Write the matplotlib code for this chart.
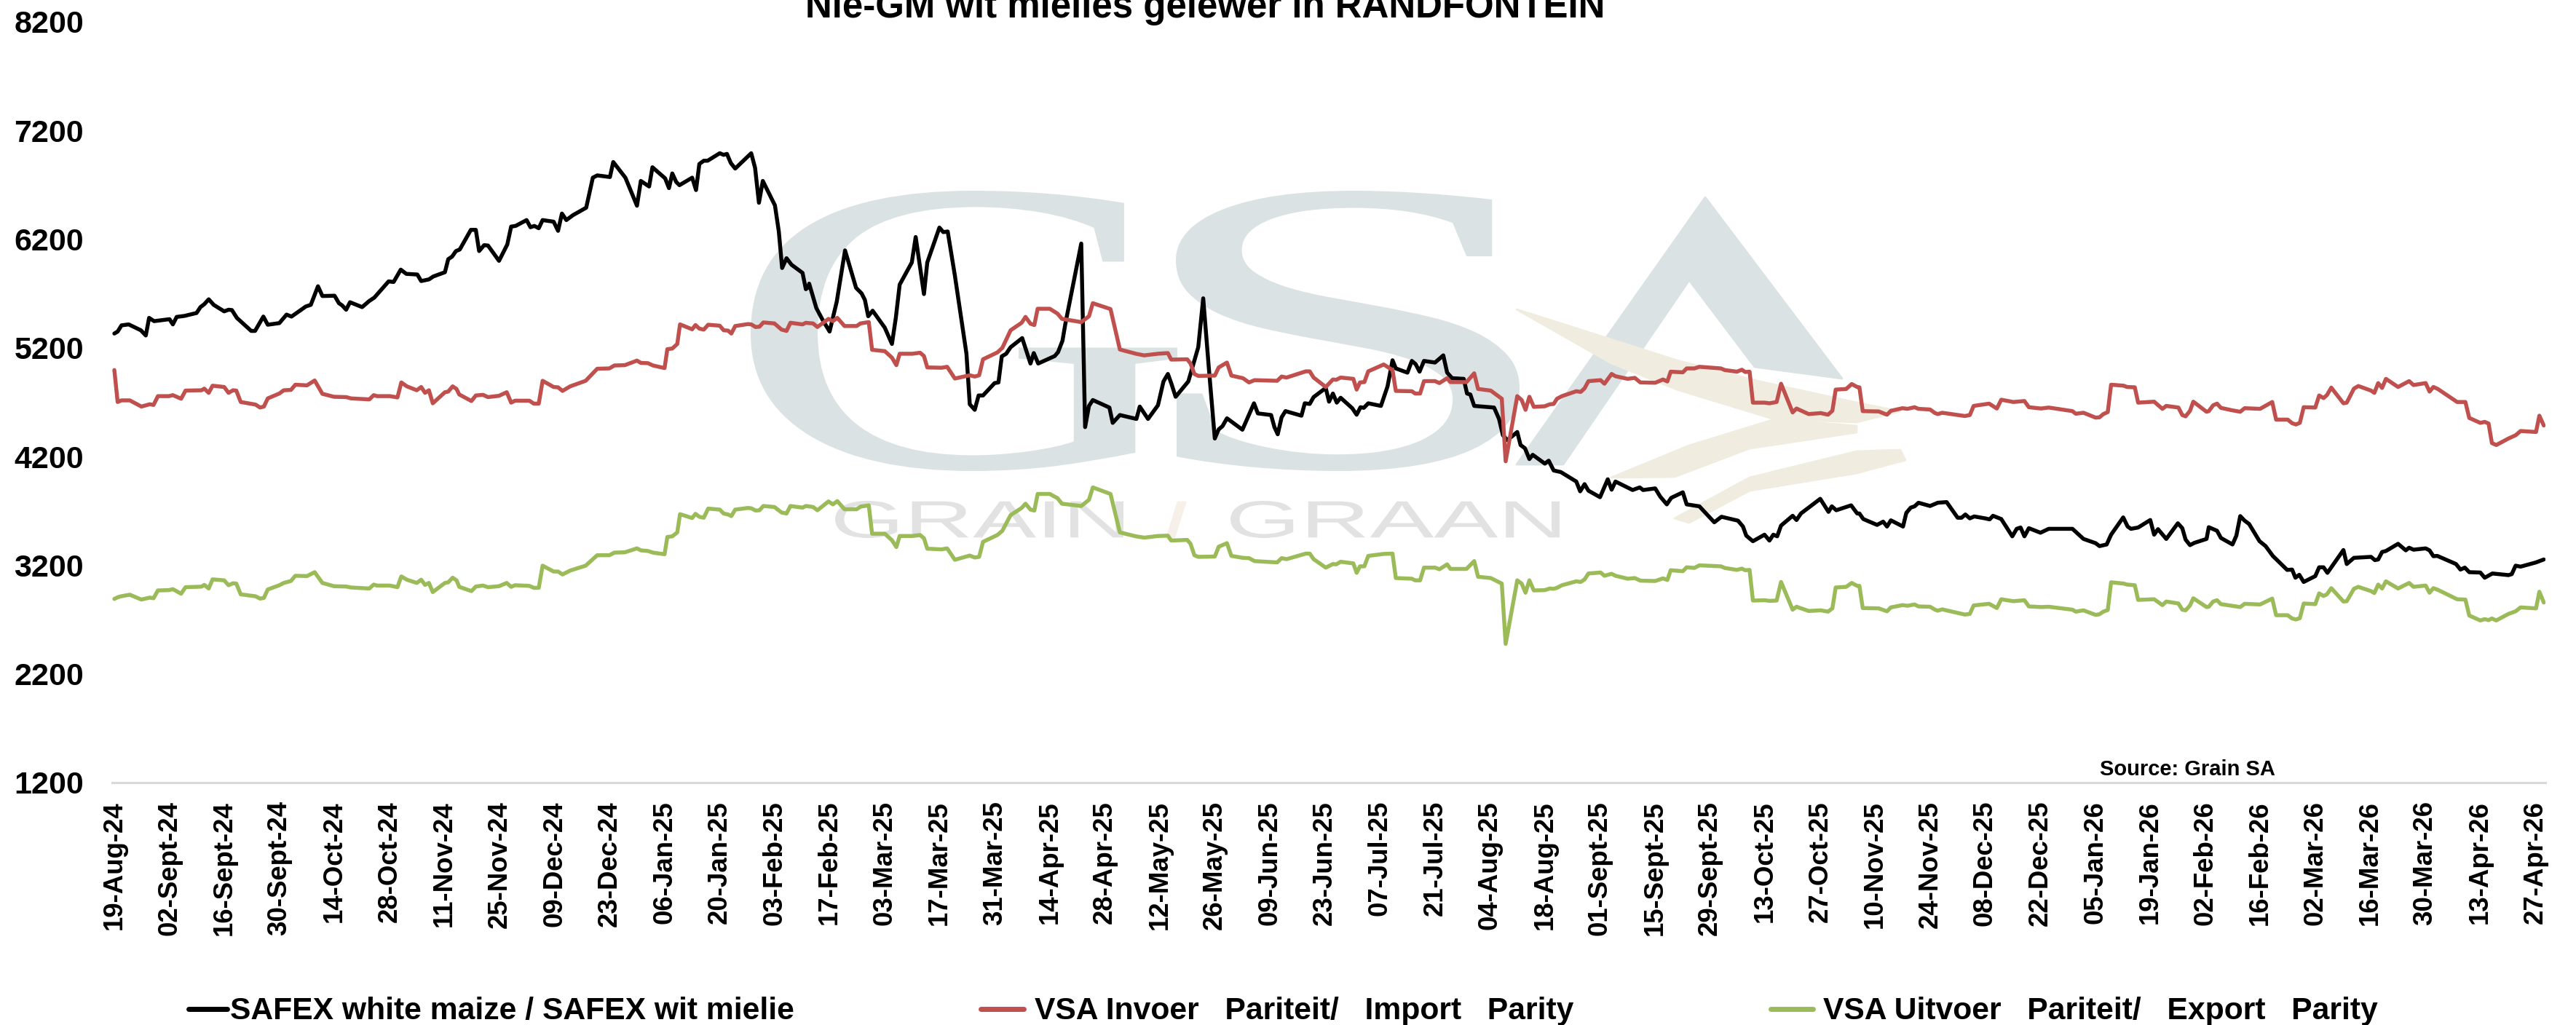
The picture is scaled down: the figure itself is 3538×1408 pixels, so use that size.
import numpy as np
import matplotlib
matplotlib.use('Agg')
import matplotlib.pyplot as plt
from matplotlib.lines import Line2D
from matplotlib.patches import PathPatch, Polygon
from matplotlib.textpath import TextPath
from matplotlib.font_manager import FontProperties
from matplotlib.transforms import Affine2D

plt.rcParams['font.family'] = ['Liberation Sans', 'DejaVu Sans']

# trading day number (0 = 19-Aug-24), price in R/ton
safex_day = [
    0.0, 0.6, 1.3, 2.6, 4.8, 5.7, 6.3, 7.2, 10.0, 10.6, 11.3, 12.7, 14.9, 15.6, 16.3, 17.1, 18.0, 19.9, 20.7, 21.3,
    22.2, 24.8, 25.5, 27.0, 27.8, 29.9, 31.2, 32.1, 34.7, 35.6, 36.9, 37.7, 39.9, 40.7, 41.3, 42.0, 42.7, 44.9, 46.2,
    47.1, 49.7, 50.6, 51.9, 52.9, 54.9, 55.6, 57.0, 57.8, 59.9, 60.5, 61.2, 61.9, 62.5,
    62.6, 64.6, 65.5, 66.1, 67.0, 67.7, 69.7, 71.2, 71.9, 72.7, 74.7, 75.4, 76.1, 76.9, 77.6, 79.6, 80.4, 81.1, 81.9,
    83.1, 85.5, 86.7, 87.5, 89.8, 90.4, 92.6, 94.7, 95.4, 96.9, 97.5, 99.8, 100.5, 101.1, 101.8, 102.4, 104.7, 105.4,
    106.0, 106.8, 107.5, 109.7, 110.4, 111.0, 111.7, 112.5, 115.4, 116.1, 116.8, 117.5, 119.7, 120.4, 121.0, 121.8,
    122.7, 124.7, 125.3, 125.8,
    125.9, 127.2, 128.3, 129.6, 130.9, 132.4, 134.4, 135.4, 136.0, 136.6, 137.4, 139.6, 140.9, 141.6, 142.3, 144.5,
    145.2, 146.7, 147.3, 149.5, 150.2, 151.0, 152.3, 154.4, 155.0, 155.9, 156.6, 157.4, 159.5, 160.2, 160.8, 161.6,
    162.4, 164.5, 166.0, 166.6, 167.4, 170.4, 171.0, 171.8, 172.3, 175.2, 175.9, 176.6, 177.3, 180.3, 180.9, 182.2,
    185.2, 185.8, 187.3, 189.1,
    190.1, 190.9, 191.5, 192.3, 194.6, 196.4, 197.3, 198.3, 199.4, 200.1, 200.8, 201.6, 204.4, 206.5, 207.2, 209.6,
    210.2, 210.8, 211.5, 212.2, 215.1, 215.7, 216.6, 217.3, 219.5, 220.1, 220.8, 221.5, 222.2, 224.3, 225.1, 225.8,
    226.4, 227.2, 229.5, 230.7, 231.6, 232.2, 234.3, 235.1, 235.8, 236.5, 237.3, 239.3, 240.8, 241.5, 242.4, 244.5,
    245.1, 245.7, 246.4, 250.0, 250.9, 251.6,
    252.4, 253.5, 254.2, 254.8, 255.6, 256.4, 257.0, 259.2, 259.9, 260.8, 262.1, 264.9, 265.6, 266.4, 267.1, 269.2,
    270.6, 271.3, 272.0, 275.1, 276.4, 277.0, 279.2, 280.1, 281.3, 282.1, 284.2, 284.9, 287.2, 289.9, 291.2, 294.2,
    295.1, 295.7, 296.9, 299.0, 299.9, 300.6, 301.3, 302.0, 304.1, 304.8, 305.6, 309.1, 310.6, 311.2, 312.0, 314.7,
    315.8,
    316.2, 316.9, 319.4, 320.5, 321.2, 321.9, 324.1, 324.7, 325.5, 326.2, 326.9, 329.0, 330.4, 332.0, 334.0, 334.7,
    335.4, 336.2, 337.0, 339.0, 339.8, 340.4, 341.9, 343.9, 344.7, 345.4, 346.1, 346.9, 349.0, 350.5, 354.8, 356.8,
    359.0, 359.7, 361.0, 361.8, 364.0, 364.8, 365.4, 366.7, 368.9, 369.6, 370.3, 371.8, 373.9, 374.7, 375.3, 376.1,
    376.9, 379.1,
    379.5, 381.0, 381.7, 383.8, 384.5, 385.2, 386.0, 386.8, 388.7, 389.8, 391.1, 393.7, 394.6, 395.2, 395.9, 396.7,
    398.8, 399.5, 400.3, 401.0, 403.9, 404.5, 405.8, 408.9, 409.6, 410.2, 410.9, 411.6, 413.8, 415.2, 415.8, 416.6,
    418.8, 419.5, 420.2, 420.9, 424.3, 425.1, 425.9, 426.7, 428.7, 429.5, 430.9, 433.8, 434.4, 435.1, 436.0, 438.8,
    440.2,
]
safex_price = [
    5332, 5350, 5407, 5416, 5362, 5314, 5476, 5446, 5464, 5416, 5485, 5494, 5521, 5575, 5602, 5647, 5596, 5536, 5551, 5548,
    5476, 5356, 5356, 5488, 5413, 5428, 5506, 5488, 5581, 5596, 5767, 5677, 5680, 5611, 5590, 5551, 5620, 5575, 5632,
    5662, 5812, 5806, 5920, 5881, 5875, 5815, 5830, 5857, 5896, 6016, 6040, 6091, 6103,
    6106, 6286, 6286, 6091, 6145, 6142, 6001, 6151, 6316, 6322, 6376, 6310, 6322, 6301, 6376, 6361, 6277, 6436, 6376,
    6421, 6490, 6766, 6787, 6772, 6910, 6766, 6508, 6736, 6685, 6862, 6760, 6670, 6805, 6727, 6697, 6766, 6652,
    6892, 6922, 6922, 6991, 6976, 6985, 6901, 6850, 6991, 6856, 6535, 6736, 6511, 6271, 5935, 6025,
    5965, 5890, 5740, 5761,
    5791, 5566, 5461, 5350, 5626, 6097, 5752, 5701, 5641, 5491, 5542, 5386, 5236, 5476, 5782, 5986,
    6220, 5695, 5986, 6307, 6265, 6271, 5866, 5146, 4681, 4630, 4762, 4762, 4876, 4882, 5122, 5146,
    5206, 5290, 5056, 5152, 5056, 5125, 5161, 5266, 5416, 6160, 4471, 4666, 4720, 4651, 4510, 4582,
    4546, 4660, 4546, 4672,
    4891, 4960, 4876, 4750, 4891, 5206, 5656, 5026, 4366, 4450, 4480, 4552, 4447, 4690, 4597, 4582,
    4471, 4405, 4561, 4618, 4576, 4690, 4684, 4747, 4831, 4705, 4780, 4696, 4741, 4645, 4585, 4654,
    4648, 4690, 4666, 4846, 5086, 5011, 4972, 5080, 5050, 4981, 5080, 5065, 5131, 4972, 4921, 4915,
    4780, 4771, 4666, 4651, 4546, 4396,
    4351, 4396, 4426, 4306, 4276, 4177, 4216, 4135, 4162, 4072, 4057, 3970, 3880, 3946, 3886, 3826,
    3991, 3895, 3970, 3892, 3916, 3892, 3907, 3832, 3760, 3820, 3871, 3760, 3742, 3595, 3646, 3610,
    3556, 3472, 3421, 3481, 3427, 3481, 3466, 3565, 3655, 3616, 3676, 3811, 3691, 3742, 3706, 3751,
    3676,
    3676, 3625, 3571, 3601, 3556, 3613, 3556, 3682, 3730, 3742, 3775, 3745, 3775, 3781, 3637, 3637,
    3667, 3631, 3649, 3631, 3622, 3655, 3625, 3466, 3535, 3547, 3466, 3541, 3499, 3535, 3535, 3442,
    3403, 3376, 3391, 3481, 3640, 3556, 3535, 3547, 3616, 3481, 3532, 3442, 3586, 3541, 3436, 3385,
    3406, 3442,
    3550, 3517, 3451, 3391, 3472, 3652, 3610, 3580, 3421, 3376, 3286, 3157, 3160, 3085, 3112, 3046,
    3100, 3181, 3181, 3130, 3340, 3211, 3268, 3277, 3247, 3253, 3322, 3331, 3397, 3337, 3361, 3343,
    3355, 3337, 3283, 3286, 3211, 3160, 3178, 3136, 3133, 3085, 3124, 3109, 3118, 3196, 3187, 3226,
    3253,
]

# import and export parity move on the same days
parity_day = [
    0.0, 0.6, 1.3, 2.8, 4.9, 6.4, 7.1, 7.9, 9.9, 10.6, 12.1, 12.9, 15.8, 16.3, 17.1, 17.8, 19.9, 20.7, 21.5, 22.1,
    22.9, 25.6, 26.4, 27.1, 27.8, 29.9, 30.7, 32.0, 32.8, 34.9, 36.3, 37.7, 39.8, 42.0, 42.9, 46.2, 47.0, 47.6, 49.9,
    51.3, 52.0, 53.0, 54.8, 55.6, 56.3, 57.0, 57.7, 59.9, 60.5, 61.3, 62.0, 62.5,
    64.7, 65.5, 66.8, 67.7, 69.7, 71.1, 71.9, 72.6, 75.2, 76.0, 76.9, 77.6, 79.6, 80.4, 81.2, 82.6, 85.4, 87.5, 89.7,
    90.6, 92.5, 94.7, 95.4, 96.7, 97.6, 99.7, 100.2, 101.1, 102.0, 102.5, 104.7, 105.3, 106.0, 106.8, 107.6, 109.7,
    110.4, 111.2, 111.8, 112.5, 114.8, 115.4, 116.2, 116.9, 117.6, 119.6, 120.9, 121.8, 122.5, 124.7, 125.3, 125.8,
    126.6, 127.4, 129.4, 130.2, 131.0, 132.3, 134.5, 135.2, 136.7, 137.3, 139.6, 140.9, 141.7, 142.3, 144.6, 146.0,
    146.7, 147.3, 149.9, 150.9, 152.3, 155.0, 155.9, 156.7, 157.4, 160.0, 160.9, 162.4, 164.4, 165.1, 166.0, 166.7,
    167.3, 169.5, 170.9, 171.7, 175.2, 176.6, 177.3, 180.5, 182.2, 185.1, 186.6, 189.1,
    190.9, 191.5, 194.4, 195.0, 195.7, 196.4, 199.4, 200.1, 201.6, 202.4, 204.5, 205.6, 206.6, 210.7, 211.5, 212.4,
    215.9, 216.6, 217.3, 219.5, 220.8, 221.4, 222.2, 224.5, 225.1, 225.7, 226.5, 227.2, 230.0, 231.6, 232.2, 235.1,
    235.7, 236.6, 237.3, 239.3, 240.1, 241.5, 242.1, 245.0, 246.4, 247.1, 249.4, 251.4, 252.1,
    254.2, 255.0, 255.7, 256.4, 257.2, 259.2, 260.1, 260.8, 261.4, 262.3, 264.9, 265.7, 266.4, 267.1, 269.3, 270.0,
    271.3, 272.0, 274.2, 275.5, 276.5, 279.2, 280.6, 281.4, 282.0, 284.2, 284.9, 286.3, 287.2, 291.1, 291.8, 294.0,
    294.9, 295.5, 296.3, 296.9, 299.0, 299.9, 301.2, 302.0, 304.1, 304.8, 307.0, 309.2, 310.5, 311.3, 311.9, 313.8,
    314.8, 315.8,
    316.2, 316.8, 319.7, 321.2, 321.9, 324.0, 324.9, 326.2, 326.9, 329.0, 329.9, 330.4, 331.2, 335.3, 336.2, 336.9,
    339.7, 341.1, 341.9, 344.1, 346.1, 346.9, 349.1, 350.5, 354.8, 355.4, 356.8, 359.0, 359.7, 360.4, 361.2, 361.8,
    364.1, 364.7, 366.1, 366.7, 369.6, 371.1, 371.8, 374.0, 374.7, 375.3, 376.1, 376.7, 379.1,
    379.5, 380.3, 381.0, 381.7, 383.6, 385.2, 386.0, 388.8, 391.0, 391.7, 393.8, 394.6, 395.3, 396.0, 396.7, 398.8,
    399.5, 400.3, 400.9, 401.7, 403.9, 404.5, 405.8, 406.6, 408.9, 409.5, 410.2, 410.9, 411.6, 413.8, 415.8, 416.6,
    418.8, 419.5, 420.2, 421.0, 424.5, 426.0, 426.7, 428.7, 429.5, 430.2, 430.8, 431.6, 433.8, 435.1, 436.0, 438.8,
    439.4, 440.2,
]
import_parity = [
    4996, 4702, 4717, 4717, 4660, 4681, 4675, 4756, 4756, 4765, 4732, 4807, 4810, 4825, 4786, 4852, 4840, 4786, 4810, 4807,
    4702, 4678, 4651, 4660, 4735, 4780, 4810, 4813, 4861, 4855, 4900, 4777, 4750, 4747, 4735, 4726, 4765, 4756, 4756,
    4744, 4882, 4846, 4810, 4840, 4786, 4810, 4690, 4792, 4798, 4846, 4822, 4771,
    4711, 4762, 4768, 4747, 4759, 4792, 4696, 4714, 4714, 4687, 4687, 4897, 4840, 4837, 4804, 4846, 4897, 5008, 5011,
    5038, 5041, 5083, 5062, 5059, 5038, 5014, 5188, 5194, 5236, 5416, 5371, 5410, 5377, 5368, 5413, 5404,
    5362, 5359, 5332, 5401, 5419, 5416, 5392, 5395, 5434, 5425, 5368, 5356, 5431, 5416, 5431, 5428,
    5425, 5392, 5467, 5446, 5476, 5401, 5401, 5425, 5437, 5182, 5170, 5110, 5041, 5146, 5146, 5155,
    5125, 5020, 5017, 5026, 4918, 4948, 4936, 4948, 5095, 5158, 5200, 5362, 5431, 5485, 5422, 5410,
    5560, 5560, 5515, 5467, 5437, 5491, 5611, 5557, 5185, 5146, 5131, 5146,
    5152, 5092, 5095, 5056, 4960, 4942, 4945, 5020, 5065, 4945, 4921, 4882, 4903, 4897, 4936, 4927,
    4984, 4984, 4927, 4840, 4909, 4906, 4927, 4915, 4816, 4882, 4885, 4984, 5047, 4996, 4804, 4801,
    4780, 4780, 4894, 4894, 4876, 4921, 4885, 4885, 4966, 4822, 4807, 4732, 4156,
    4756, 4720, 4630, 4750, 4657, 4663, 4681, 4684, 4732, 4756, 4801, 4795, 4828, 4894, 4903, 4870,
    4960, 4939, 4915, 4924, 4882, 4879, 4909, 4891, 4981, 4975, 5011, 5011, 5026, 5011, 4996, 4981,
    4999, 4978, 4981, 4696, 4696, 4690, 4702, 4870, 4606, 4642, 4591, 4600, 4585, 4621, 4816, 4822,
    4867, 4840,
    4837, 4618, 4615, 4585, 4621, 4645, 4639, 4654, 4639, 4633, 4600, 4591, 4603, 4573, 4582, 4666,
    4687, 4642, 4723, 4702, 4711, 4654, 4642, 4651, 4618, 4594, 4603, 4558, 4561, 4591, 4609, 4861,
    4852, 4840, 4837, 4696, 4705, 4639, 4666, 4651, 4582, 4570, 4621, 4705, 4612,
    4618, 4672, 4687, 4648, 4627, 4612, 4645, 4639, 4702, 4540, 4540, 4507, 4495, 4510, 4654, 4651,
    4762, 4738, 4765, 4834, 4690, 4696, 4825, 4849, 4807, 4786, 4876, 4831, 4915, 4840, 4894, 4858,
    4876, 4798, 4840, 4822, 4702, 4702, 4555, 4510, 4519, 4504, 4324, 4306, 4366, 4396, 4435, 4426,
    4576, 4486,
]
export_parity = [
    2890, 2905, 2915, 2929, 2884, 2902, 2896, 2968, 2971, 2980, 2938, 2998, 3003, 3019, 2986, 3070, 3061, 3016, 3034, 3031,
    2932, 2914, 2893, 2899, 2977, 3016, 3037, 3055, 3103, 3100, 3136, 3037, 3007, 3004, 2995, 2986, 3022, 3013, 3013,
    2998, 3097, 3067, 3037, 3067, 3019, 3037, 2953, 3037, 3043, 3085, 3061, 3001,
    2962, 3004, 3013, 2998, 3007, 3037, 3001, 3016, 3010, 2992, 2992, 3196, 3142, 3142, 3115, 3151, 3196, 3292, 3292,
    3316, 3319, 3355, 3337, 3331, 3316, 3301, 3460, 3466, 3502, 3670, 3634, 3673, 3646, 3637, 3721, 3712,
    3676, 3667, 3652, 3712, 3727, 3724, 3703, 3706, 3745, 3736, 3685, 3676, 3745, 3730, 3745, 3742,
    3736, 3706, 3787, 3760, 3790, 3715, 3715, 3739, 3751, 3490, 3490, 3430, 3367, 3469, 3469, 3478,
    3448, 3352, 3346, 3355, 3250, 3289, 3271, 3277, 3415, 3478, 3517, 3661, 3727, 3766, 3712, 3703,
    3856, 3856, 3817, 3766, 3745, 3802, 3916, 3856, 3502, 3466, 3454, 3469,
    3472, 3427, 3433, 3397, 3292, 3277, 3280, 3370, 3403, 3286, 3268, 3265, 3238, 3226, 3265, 3256,
    3307, 3307, 3256, 3178, 3211, 3208, 3232, 3217, 3130, 3190, 3190, 3286, 3304, 3307, 3082, 3076,
    3061, 3061, 3178, 3178, 3163, 3208, 3166, 3166, 3238, 3094, 3082, 3031, 2476,
    3061, 3031, 2947, 3061, 2968, 2971, 2986, 2983, 2992, 3016, 3052, 3046, 3070, 3124, 3133, 3103,
    3121, 3103, 3076, 3082, 3058, 3055, 3079, 3064, 3154, 3145, 3181, 3175, 3199, 3190, 3175, 3157,
    3169, 3154, 3157, 2875, 2878, 2872, 2875, 3046, 2791, 2818, 2779, 2785, 2773, 2803, 2995, 3001,
    3037, 3010,
    3010, 2806, 2803, 2776, 2812, 2833, 2827, 2839, 2821, 2818, 2791, 2782, 2794, 2746, 2752, 2830,
    2845, 2806, 2887, 2869, 2878, 2821, 2815, 2818, 2791, 2773, 2785, 2743, 2749, 2773, 2788, 3043,
    3031, 3022, 3016, 2881, 2887, 2833, 2866, 2848, 2791, 2785, 2830, 2896, 2815,
    2818, 2866, 2878, 2842, 2827, 2815, 2845, 2839, 2893, 2740, 2740, 2710, 2701, 2713, 2848, 2842,
    2941, 2917, 2932, 2989, 2866, 2869, 2983, 3001, 2962, 2944, 3022, 2986, 3052, 2986, 3037, 3001,
    3013, 2947, 2989, 2974, 2887, 2884, 2737, 2692, 2704, 2695, 2710, 2692, 2752, 2776, 2812, 2803,
    2956, 2857,
]

tick_labels = [
    '19-Aug-24', '02-Sept-24', '16-Sept-24', '30-Sept-24', '14-Oct-24', '28-Oct-24', '11-Nov-24', '25-Nov-24',
    '09-Dec-24', '23-Dec-24', '06-Jan-25', '20-Jan-25', '03-Feb-25', '17-Feb-25', '03-Mar-25', '17-Mar-25',
    '31-Mar-25', '14-Apr-25', '28-Apr-25', '12-May-25', '26-May-25', '09-Jun-25', '23-Jun-25', '07-Jul-25',
    '21-Jul-25', '04-Aug-25', '18-Aug-25', '01-Sept-25', '15-Sept-25', '29-Sept-25', '13-Oct-25', '27-Oct-25',
    '10-Nov-25', '24-Nov-25', '08-Dec-25', '22-Dec-25', '05-Jan-26', '19-Jan-26', '02-Feb-26', '16-Feb-26',
    '02-Mar-26', '16-Mar-26', '30-Mar-26', '13-Apr-26', '27-Apr-26',
]
y_ticks = [1200, 2200, 3200, 4200, 5200, 6200, 7200, 8200]

W, H = 3538, 1408
BLACK, RED, GREEN = '#000000', '#C0504D', '#9BBB59'

fig = plt.figure(figsize=(W / 100, H / 100), dpi=100)
ax = fig.add_axes([154 / W, 1 - 1075 / H, (3496 - 154) / W, (1075 - 30) / H])
ax.patch.set_visible(False)

# pixel coords measured from the top left
px = Affine2D().scale(1 / W, -1 / H).translate(0, 1) + fig.transFigure


def logo_text(text, x0, x1, y0, y1, color, family='Liberation Serif', weight='normal'):
    '''
    Draws text stretched into a pixel box, for the watermark
    '''
    path = TextPath((0, 0), text, size=100, prop=FontProperties(family=family, weight=weight))
    bb = path.get_extents()
    t = Affine2D().translate(-bb.x0, -bb.y0).scale((x1 - x0) / bb.width, -(y1 - y0) / bb.height)
    t = t + Affine2D().translate(x0, y1) + px
    fig.add_artist(PathPatch(path, transform=t, fc=color, ec='none', zorder=-5))


def logo_poly(points, color):
    fig.add_artist(Polygon(points, closed=True, transform=px, fc=color, ec=color, lw=2, joinstyle='round', zorder=-5))


# watermark
LOGO = '#dae2e4'
TAN = '#f0ecdf'
logo_text('G', 1031, 1617, 262, 647, LOGO)
logo_text('S', 1615, 2087, 262, 647, LOGO)
logo_poly([(2083, 638), (2342, 271), (2530, 520), (2410, 504), (2320, 385), (2147, 638)], LOGO)
logo_poly([(2083, 425), (2203, 463), (2303, 495), (2417, 524), (2550, 553), (2610, 565), (2550, 580), (2437, 576),
           (2303, 535), (2213, 499)], TAN)
logo_poly([(2213, 656), (2320, 612), (2437, 576), (2550, 585), (2550, 594), (2403, 616), (2300, 655)], TAN)
logo_poly([(2300, 712), (2403, 656), (2550, 620), (2610, 618), (2617, 632), (2550, 650), (2403, 674), (2320, 718)], TAN)
logo_text('GRAIN', 1147, 1543, 688, 739, '#e2e2e2', family='Liberation Sans')
logo_text('GRAAN', 1690, 2142, 688, 739, '#e2e2e2', family='Liberation Sans')
logo_poly([(1618, 690), (1628, 690), (1612, 740), (1602, 740)], '#f6f0e8')

ax.plot(safex_day, safex_price, color=BLACK, lw=3.9, solid_joinstyle='round', solid_capstyle='round')
ax.plot(parity_day, import_parity, color=RED, lw=3.9, solid_joinstyle='round', solid_capstyle='round')
ax.plot(parity_day, export_parity, color=GREEN, lw=3.9, solid_joinstyle='round', solid_capstyle='round')

ax.set_xlim(-0.4, 440.5)
ax.set_ylim(1200, 8200)
ax.set_yticks(y_ticks)
ax.set_xticks(np.arange(len(tick_labels)) * 9.97)
ax.set_xticklabels(tick_labels, rotation=90, fontsize=26.4, fontweight='bold', va='top', ha='center')
ax.tick_params(axis='x', length=0, pad=18)
ax.tick_params(axis='y', length=0, pad=28, labelsize=31)
for lab in ax.get_yticklabels():
    lab.set_fontweight('bold')

for side in ['top', 'right', 'left']:
    ax.spines[side].set_visible(False)
ax.spines['bottom'].set_color('#d9d9d9')
ax.spines['bottom'].set_linewidth(2.2)

fig.text(1655 / W, 1 - 24 / H, 'Nie-GM wit mielies gelewer in RANDFONTEIN', fontsize=36.7, fontweight='bold',
         ha='center', va='baseline')
fig.text(2884 / W, 1 - 1057 / H, 'Source: Grain SA', fontsize=21, fontweight='bold', ha='left', va='center')

# legend is spread out along the bottom
legend_items = [
    (259, 312, 316, BLACK, 'SAFEX white maize / SAFEX wit mielie'),
    (1347, 1406, 1421, RED, 'VSA Invoer   Pariteit/   Import   Parity'),
    (2432, 2490, 2504, GREEN, 'VSA Uitvoer   Pariteit/   Export   Parity'),
]
for x0, x1, xt, col, label in legend_items:
    fig.add_artist(Line2D([x0 / W, x1 / W], [1 - 1386 / H] * 2, color=col, lw=5, solid_capstyle='round'))
    fig.text(xt / W, 1 - 1400 / H, label, fontsize=30.7, fontweight='bold', ha='left', va='baseline')

fig.savefig('out.png', dpi=100)
